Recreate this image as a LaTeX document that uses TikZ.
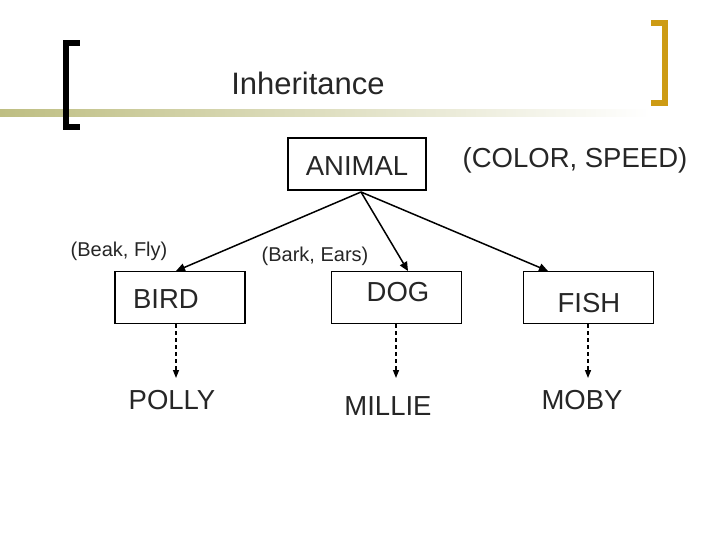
\documentclass[tikz,border=0pt]{standalone}
\usepackage{fontspec}
\setmainfont{Liberation Sans}
\usetikzlibrary{arrows.meta}
\definecolor{gold}{RGB}{205,155,20}
\definecolor{oliv}{RGB}{190,190,130}
\begin{document}
\begin{tikzpicture}[x=1pt,y=-1pt,
  box/.style={draw,line width=1.6pt,minimum width=130pt,minimum height=52pt,inner sep=0pt},
  lbl/.style={font=\fontsize{27.5}{27.5}\selectfont,text=black!85},
  small/.style={font=\fontsize{20}{20}\selectfont,text=black!85},
  arr/.style={-{Triangle[length=9pt,width=8pt]},line width=1.5pt},
  darr/.style={-{Triangle[length=8pt,width=6pt]},line width=1.4pt,dash pattern=on 4pt off 3pt}]
\useasboundingbox (0,0) rectangle (720,540);
% decorations
\shade[left color=oliv,right color=white] (0,110) rectangle (650,117);
\fill[black] (63,40) rectangle (69,130);
\fill[black] (63,40) rectangle (80,46);
\fill[black] (63,124) rectangle (80,130);
\fill[gold] (662,20) rectangle (668,106);
\fill[gold] (651,20) rectangle (668,26);
\fill[gold] (651,100) rectangle (668,106);
\node[font=\fontsize{31}{31}\selectfont,text=black!85] (title) at (308,83) {Inheritance};
% boxes
\node[box,minimum width=138pt] (animal) at (357,164) {};
\node[lbl] (animalt) at (357,166) {ANIMAL};
\node[lbl] (cs) at (575,160) {(COLOR, SPEED)};
\node[box] (bird) at (180,297.5) {};
\node[lbl] (birdt) at (166,299) {BIRD};
\node[box] (dog) at (396.5,297.5) {};
\node[lbl] (dogt) at (398,292) {DOG};
\node[box] (fish) at (588.5,297.5) {};
\node[lbl] (fisht) at (589,303) {FISH};
\node[small] (bf) at (119,251) {(Beak, Fly)};
\node[small] (be) at (315,256) {(Bark, Ears)};
\node[lbl] (polly) at (172,400) {POLLY};
\node[lbl] (millie) at (388,406) {MILLIE};
\node[lbl] (moby) at (582,400) {MOBY};
\coordinate (top) at (361,192);
\draw[arr] (top) -- (176,271);
\draw[arr] (top) -- (408,271);
\draw[arr] (top) -- (548,271);
\draw[darr] (176,324) -- (176,378);
\draw[darr] (396,324) -- (396,378);
\draw[darr] (588,324) -- (588,378);
\end{tikzpicture}
\end{document}
